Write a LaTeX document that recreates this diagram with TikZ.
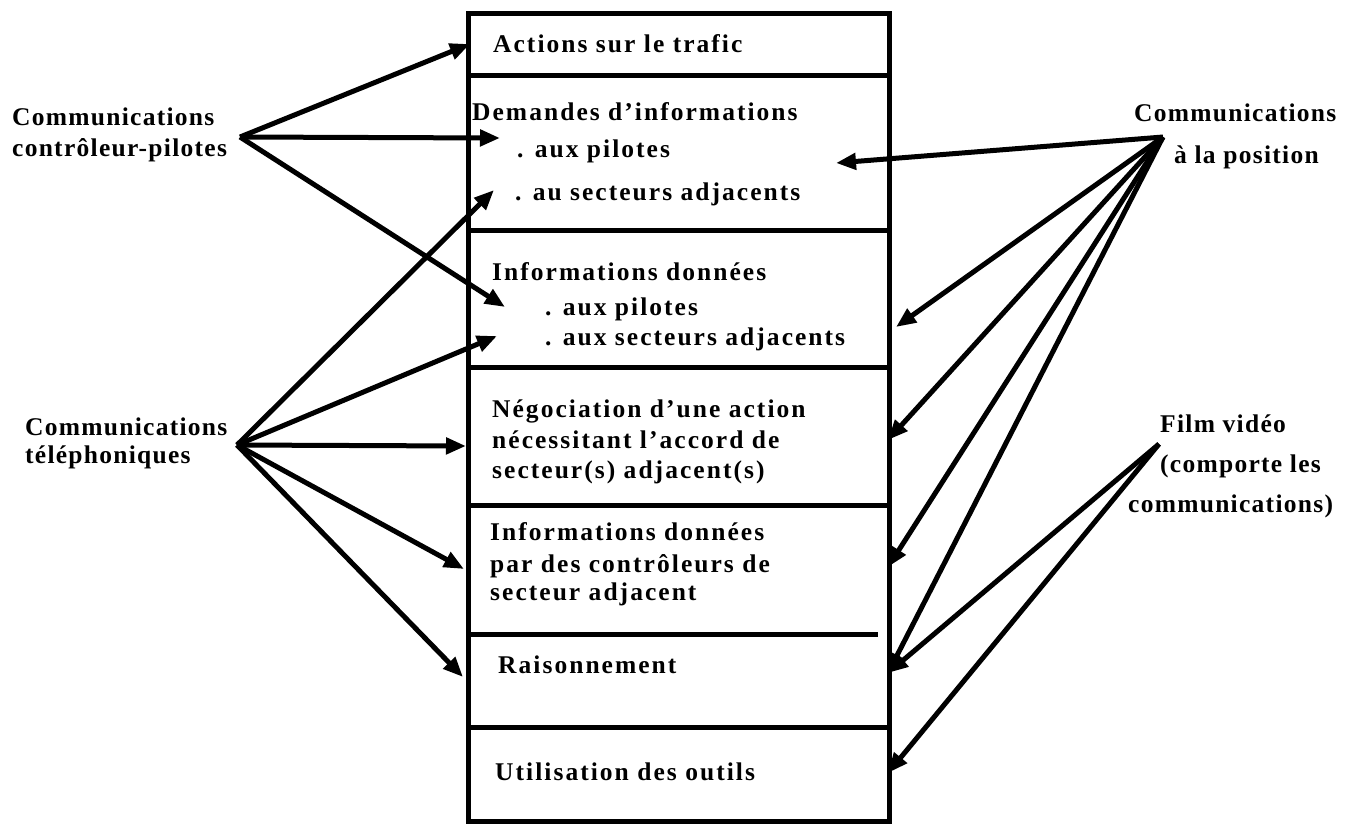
\documentclass[tikz,border=0pt]{standalone}
\usepackage{fontspec}
\setmainfont{Liberation Serif}[LetterSpace=8]
\newfontfamily\sidefont{Liberation Serif}[LetterSpace=5]
\usetikzlibrary{arrows.meta}
\begin{document}
\begin{tikzpicture}[x=1pt,y=-1pt,
  lbl/.style={font=\fontsize{25.5}{30}\selectfont\bfseries, inner sep=0pt, anchor=base west},
  side/.style={font=\sidefont\fontsize{25.5}{30}\selectfont\bfseries, inner sep=0pt, anchor=base west},
  arr/.style={line width=5pt, line join=round, -{Triangle[length=20pt,width=16pt]}},
  boxline/.style={line width=5pt}]
\useasboundingbox (0,0) rectangle (1352,823);

% main column
\draw[boxline] (468,13) rectangle (889,821);
\foreach \yy in {75,230,367,505,727}
  \draw[boxline] (468,\yy) -- (889,\yy);
\draw[boxline] (468,634) -- (878,634);

% texts in the column
\node[lbl] (act)  at (493,52)  {Actions sur le trafic};
\node[lbl] (dem)  at (472,120) {Demandes d’informations};
\node[lbl] (dem1) at (517,157) {. aux pilotes};
\node[lbl] (dem2) at (515,200) {. au secteurs adjacents};
\node[lbl] (inf)  at (492,280) {Informations données};
\node[lbl] (inf1) at (545,315) {. aux pilotes};
\node[lbl] (inf2) at (545,345) {. aux secteurs adjacents};
\node[lbl] (neg1) at (492,417) {Négociation d’une action};
\node[lbl] (neg2) at (492,448) {nécessitant l’accord de};
\node[lbl] (neg3) at (492,478) {secteur(s) adjacent(s)};
\node[lbl] (ida1) at (490,540) {Informations données};
\node[lbl] (ida2) at (490,572) {par des contrôleurs de};
\node[lbl] (ida3) at (490,600) {secteur adjacent};
\node[lbl] (rai)  at (498,673) {Raisonnement};
\node[lbl] (uti)  at (495,780) {Utilisation des outils};

% side labels
\node[side] (ccpA) at (12,125)  {Communications};
\node[side] (ccpB) at (12,156)  {contrôleur-pilotes};
\node[side] (telA) at (25,435)  {Communications};
\node[side] (telB) at (25,463)  {téléphoniques};
\node[side] (posA) at (1134,121) {Communications};
\node[side] (posB) at (1174,163) {à la position};
\node[side] (vidA) at (1160,432) {Film vidéo};
\node[side] (vidB) at (1160,472) {(comporte les};
\node[side] (vidC) at (1128,512) {communications)};

% hubs
\coordinate (hCP)  at (240,137);
\coordinate (hTel) at (237,445);
\coordinate (hPos) at (1163,137);
\coordinate (hVid) at (1159,444);

% arrow tips
\coordinate (tAct)  at (470,44);
\coordinate (tDem1) at (500,138);
\coordinate (tInf1) at (505,307);
\coordinate (tDem2) at (494,190);
\coordinate (tInf2) at (497,336);
\coordinate (tNeg)  at (466,446);
\coordinate (tIda)  at (464,569);
\coordinate (tRaiL) at (463,677);
\coordinate (tDemR) at (836,163);
\coordinate (tInfR) at (896,327);
\coordinate (tNegR) at (888,440);
\coordinate (tIdaR) at (888,567);
\coordinate (tRaiR) at (888,673);
\coordinate (tUti)  at (888,773);

% controller-pilot communications
\draw[arr] (hCP) -- (tAct);
\draw[arr] (hCP) -- (tDem1);
\draw[arr] (hCP) -- (tInf1);

% telephone communications
\draw[arr] (hTel) -- (tDem2);
\draw[arr] (hTel) -- (tInf2);
\draw[arr] (hTel) -- (tNeg);
\draw[arr] (hTel) -- (tIda);
\draw[arr] (hTel) -- (tRaiL);

% communications at the position
\draw[arr] (hPos) -- (tDemR);
\draw[arr] (hPos) -- (tInfR);
\draw[arr] (hPos) -- (tNegR);
\draw[arr] (hPos) -- (tIdaR);
\draw[arr] (hPos) -- (tRaiR);

% video
\draw[arr] (hVid) -- (tRaiR);
\draw[arr] (hVid) -- (tUti);
\end{tikzpicture}
\end{document}
